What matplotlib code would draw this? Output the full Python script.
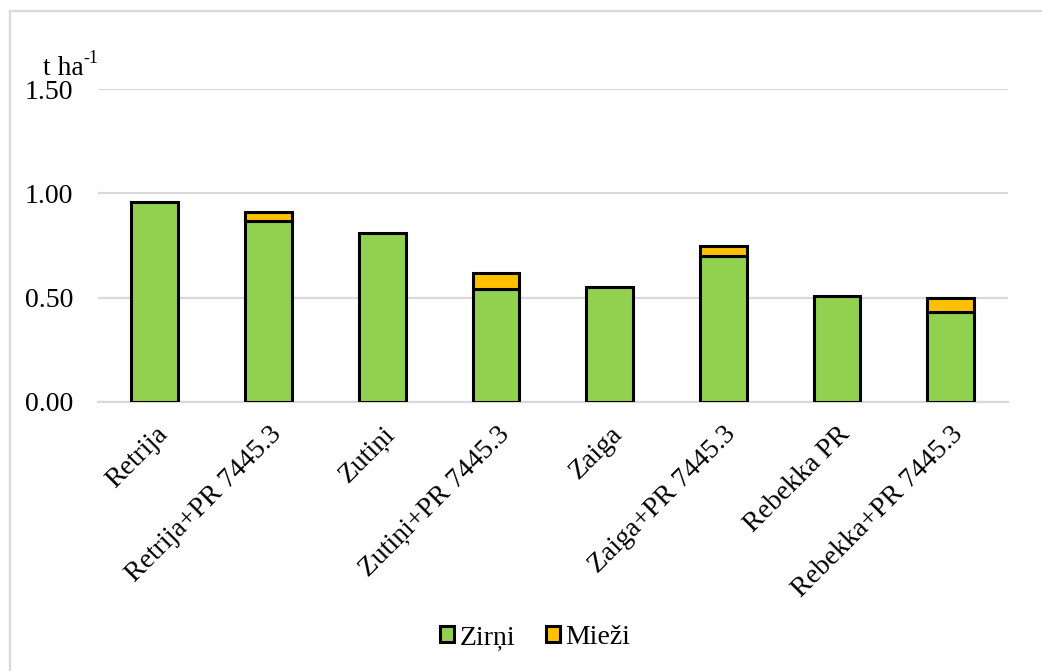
import matplotlib.pyplot as plt
from matplotlib.lines import Line2D
from matplotlib.patches import Patch

# data (t ha-1)
varieties = ['Retrija', 'Retrija+PR 7445.3', 'Zutiņi', 'Zutiņi+PR 7445.3',
             'Zaiga', 'Zaiga+PR 7445.3', 'Rebekka PR', 'Rebekka+PR 7445.3']
zirni = [0.96, 0.87, 0.81, 0.54, 0.55, 0.70, 0.51, 0.43]
miezi = [0.00, 0.04, 0.00, 0.08, 0.00, 0.05, 0.00, 0.07]
yticks = [0.0, 0.5, 1.0, 1.5]

green = '#92d050'
orange = '#ffc000'

plt.rcParams['font.family'] = ['Liberation Serif', 'DejaVu Serif']

fig = plt.figure(figsize=(10.42, 6.71), dpi=100)
ax = fig.add_axes([0.094, 0.401, 0.873, 0.466])

x = list(range(len(varieties)))
w = 0.41
ax.bar(x, zirni, width=w, color=green, edgecolor='black', linewidth=2.2, zorder=3)
ax.bar([i for i in x if miezi[i] > 0], [m for m in miezi if m > 0], width=w,
       bottom=[zirni[i] for i in x if miezi[i] > 0],
       color=orange, edgecolor='black', linewidth=2.2, zorder=3)

ax.set_xlim(-0.5, len(varieties) - 0.5)
ax.set_ylim(0, 1.5)
ax.set_yticks(yticks)
ax.set_yticklabels([f'{v:.2f}' for v in yticks], fontsize=20)
ax.yaxis.grid(True, color='#d9d9d9', linewidth=1.6, zorder=0)
ax.set_xticks(x)
ax.set_xticklabels(varieties, rotation=45, ha='right', rotation_mode='anchor', fontsize=20)
ax.tick_params(axis='both', length=0)
ax.tick_params(axis='y', pad=18)
ax.tick_params(axis='x', pad=14)
for s in ['top', 'right', 'left']:
    ax.spines[s].set_visible(False)
ax.spines['bottom'].set_color('#d9d9d9')
ax.spines['bottom'].set_linewidth(1.6)

# unit label with superscript
t = fig.text(0.041, 0.888, 't ha', fontsize=20)
ax.annotate('-1', xy=(1, 0.55), xycoords=t, fontsize=13, va='bottom', ha='left',
            annotation_clip=False)

handles = [Patch(facecolor=green, edgecolor='black', linewidth=2.2),
           Patch(facecolor=orange, edgecolor='black', linewidth=2.2)]
fig.legend(handles, ['Zirņi', 'Mieži'], loc='center', bbox_to_anchor=(0.514, 0.05),
           ncol=2, frameon=False, fontsize=20, handlelength=0.5, handleheight=0.5,
           handletextpad=0.2, columnspacing=1.1)

# outer frame (top and left edges only, as cropped)
fig.add_artist(Line2D([10 / 1042, 1], [1 - 11 / 671, 1 - 11 / 671], color='#d9d9d9', linewidth=1.6))
fig.add_artist(Line2D([10 / 1042, 10 / 1042], [0, 1 - 11 / 671], color='#d9d9d9', linewidth=1.6))

fig.savefig('out.png', dpi=100)
